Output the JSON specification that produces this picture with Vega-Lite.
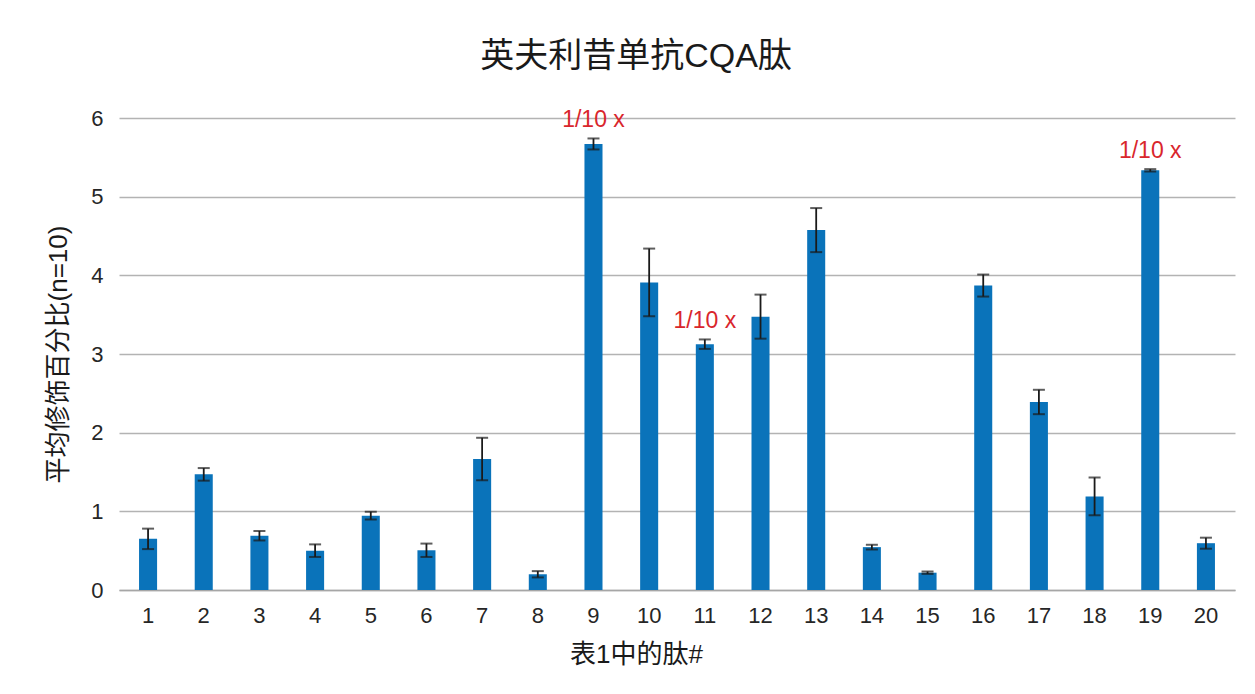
{
  "$schema": "https://vega.github.io/schema/vega-lite/v6.json",
  "autosize": "none",
  "width": 1116,
  "height": 472,
  "padding": {"left": 119, "top": 118, "right": 20, "bottom": 104},
  "background": "white",
  "title": {
    "text": "英夫利昔单抗CQA肽",
    "font": "Liberation Sans, Noto Sans CJK SC",
    "fontSize": 34,
    "fontWeight": "normal",
    "color": "#1a1a1a",
    "anchor": "middle",
    "dx": -41,
    "offset": 33
  },
  "config": {
    "view": {"stroke": null},
    "font": "Liberation Sans, Noto Sans CJK SC"
  },
  "data": {
    "values": [
      {"peptide": "1", "mean": 0.65, "err": 0.13, "note": ""},
      {"peptide": "2", "mean": 1.47, "err": 0.08, "note": ""},
      {"peptide": "3", "mean": 0.69, "err": 0.06, "note": ""},
      {"peptide": "4", "mean": 0.5, "err": 0.08, "note": ""},
      {"peptide": "5", "mean": 0.945, "err": 0.05, "note": ""},
      {"peptide": "6", "mean": 0.505, "err": 0.085, "note": ""},
      {"peptide": "7", "mean": 1.665, "err": 0.27, "note": ""},
      {"peptide": "8", "mean": 0.2, "err": 0.04, "note": ""},
      {"peptide": "9", "mean": 5.67, "err": 0.07, "note": "1/10 x"},
      {"peptide": "10", "mean": 3.91, "err": 0.43, "note": ""},
      {"peptide": "11", "mean": 3.125, "err": 0.06, "note": "1/10 x"},
      {"peptide": "12", "mean": 3.475, "err": 0.28, "note": ""},
      {"peptide": "13", "mean": 4.575, "err": 0.28, "note": ""},
      {"peptide": "14", "mean": 0.545, "err": 0.03, "note": ""},
      {"peptide": "15", "mean": 0.22, "err": 0.015, "note": ""},
      {"peptide": "16", "mean": 3.87, "err": 0.14, "note": ""},
      {"peptide": "17", "mean": 2.39, "err": 0.155, "note": ""},
      {"peptide": "18", "mean": 1.19, "err": 0.24, "note": ""},
      {"peptide": "19", "mean": 5.335, "err": 0.015, "note": "1/10 x"},
      {"peptide": "20", "mean": 0.595, "err": 0.07, "note": ""}
    ]
  },
  "encoding": {
    "x": {
      "field": "peptide",
      "type": "ordinal",
      "sort": null,
      "scale": {"paddingInner": 0.676, "paddingOuter": 0.36},
      "axis": {
        "title": "表1中的肽#",
        "titleFont": "Liberation Sans, Noto Sans CJK SC",
        "titleFontSize": 26,
        "titleFontWeight": "normal",
        "titleColor": "#1a1a1a",
        "titlePadding": 15,
        "titleX": 517,
        "labelAngle": 0,
        "labelFontSize": 22,
        "labelColor": "#262626",
        "labelPadding": 15,
        "ticks": false,
        "domain": true,
        "domainColor": "#a6a6a6",
        "domainWidth": 1.5
      }
    }
  },
  "layer": [
    {
      "mark": {"type": "bar", "color": "#0a73ba"},
      "encoding": {
        "y": {
          "field": "mean",
          "type": "quantitative",
          "title": "平均修饰百分比(n=10)",
          "scale": {"domain": [0, 6], "nice": false},
          "axis": {
            "titleFont": "Liberation Sans, Noto Sans CJK SC",
            "titleFontSize": 26,
            "titleFontWeight": "normal",
            "titleColor": "#1a1a1a",
            "titlePadding": 19,
            "values": [0, 1, 2, 3, 4, 5, 6],
            "format": "d",
            "labelFontSize": 22,
            "labelColor": "#262626",
            "labelPadding": 16,
            "ticks": false,
            "domain": false,
            "grid": true,
            "gridColor": "#b3b3b3",
            "gridWidth": 1.3
          }
        }
      }
    },
    {
      "mark": {
        "type": "errorbar",
        "ticks": {"size": 12, "thickness": 2, "color": "#1a1a1a"},
        "rule": {"strokeWidth": 1.8, "color": "#1a1a1a"}
      },
      "encoding": {
        "y": {"field": "mean", "type": "quantitative", "title": "平均修饰百分比(n=10)"},
        "yError": {"field": "err"}
      }
    },
    {
      "transform": [
        {"filter": "datum.note != ''"},
        {"calculate": "datum.mean + datum.err", "as": "upper"}
      ],
      "mark": {
        "type": "text",
        "color": "#d9262c",
        "fontSize": 23,
        "baseline": "bottom",
        "dy": -6
      },
      "encoding": {
        "y": {"field": "upper", "type": "quantitative", "title": "平均修饰百分比(n=10)"},
        "text": {"field": "note"}
      }
    }
  ]
}
